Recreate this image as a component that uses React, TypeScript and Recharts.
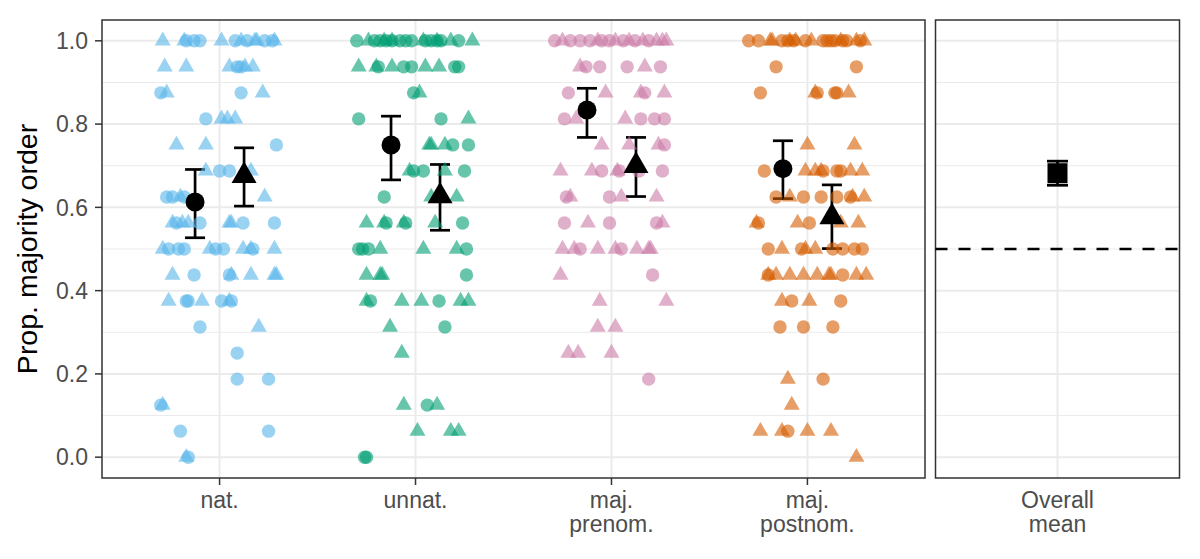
import {
  ErrorBar,
  ReferenceArea,
  ReferenceLine,
  Scatter,
  ScatterChart,
  XAxis,
  YAxis,
} from "recharts";

// [horizontal jitter within the category, proportion]
type Pt = [number, number];

const categories = ["nat.", "unnat.", "maj.\nprenom.", "maj.\npostnom."];
const colors = ["#56B4E9", "#009E73", "#CC79A7", "#D55E00"];

const natCircles: Pt[] = [
  [-0.17, 1], [-0.13, 1], [-0.1, 1], [0.08, 1], [0.14, 1], [0.23, 1], [0.27, 1],
  [0.09, 0.9375], [0.11, 0.9375],
  [-0.3, 0.875], [0.11, 0.875],
  [-0.07, 0.8125],
  [0.29, 0.75],
  [0, 0.6875], [0.05, 0.6875],
  [-0.27, 0.625], [-0.24, 0.625], [-0.18, 0.625],
  [-0.22, 0.5625], [-0.1, 0.5625], [0.12, 0.5625], [0.28, 0.5625],
  [-0.26, 0.5], [-0.21, 0.5], [-0.18, 0.5], [-0.02, 0.5], [0.02, 0.5], [0.17, 0.5],
  [-0.13, 0.4375], [0.05, 0.4375],
  [-0.17, 0.375], [-0.16, 0.375], [0.01, 0.375], [0.06, 0.375],
  [-0.1, 0.3125],
  [0.09, 0.25],
  [0.09, 0.1875], [0.25, 0.1875],
  [-0.3, 0.125],
  [-0.2, 0.0625], [0.25, 0.0625],
  [-0.16, 0],
];
const natTriangles: Pt[] = [
  [-0.29, 1], [-0.18, 1], [0.01, 1], [0.11, 1], [0.18, 1], [0.19, 1], [0.28, 1],
  [-0.28, 0.9375], [-0.17, 0.9375], [0.05, 0.9375], [0.13, 0.9375], [0.17, 0.9375],
  [-0.27, 0.875], [0.22, 0.875],
  [0.01, 0.8125], [0.04, 0.8125], [0.08, 0.8125],
  [-0.22, 0.75], [-0.07, 0.75],
  [-0.07, 0.6875], [0.16, 0.6875],
  [-0.2, 0.625], [0.23, 0.625],
  [-0.24, 0.5625], [-0.19, 0.5625], [-0.16, 0.5625], [0.05, 0.5625], [0.06, 0.5625],
  [-0.29, 0.5], [-0.05, 0.5], [0.12, 0.5], [0.16, 0.5], [0.28, 0.5],
  [-0.24, 0.4375], [0.06, 0.4375], [0.16, 0.4375], [0.28, 0.4375], [0.29, 0.4375],
  [-0.26, 0.375], [-0.09, 0.375], [0.05, 0.375],
  [0.2, 0.3125],
  [-0.29, 0.125],
  [-0.17, 0],
];

const unnatCircles: Pt[] = [
  [-0.3, 1], [-0.21, 1], [-0.18, 1], [-0.15, 1], [-0.12, 1], [-0.08, 1], [-0.05, 1],
  [-0.02, 1], [0.05, 1], [0.08, 1], [0.11, 1], [0.13, 1], [0.22, 1],
  [-0.19, 0.9375], [-0.06, 0.9375], [-0.02, 0.9375], [0.2, 0.9375], [0.22, 0.9375],
  [-0.01, 0.875],
  [-0.29, 0.8125], [0.13, 0.8125],
  [0.19, 0.75], [0.27, 0.75],
  [-0.01, 0.6875], [0.04, 0.6875], [0.25, 0.6875],
  [-0.16, 0.625],
  [-0.15, 0.5625], [-0.05, 0.5625], [0.24, 0.5625],
  [-0.29, 0.5], [-0.27, 0.5], [-0.24, 0.5], [0.26, 0.5],
  [0.26, 0.4375],
  [-0.23, 0.375], [0.12, 0.375],
  [0.15, 0.3125],
  [0.06, 0.125],
  [-0.26, 0], [-0.25, 0],
];
const unnatTriangles: Pt[] = [
  [-0.24, 1], [-0.16, 1], [-0.12, 1], [0.04, 1], [0.11, 1], [0.18, 1], [0.29, 1],
  [-0.29, 0.9375], [-0.2, 0.9375], [-0.12, 0.9375], [0.05, 0.9375], [0.12, 0.9375],
  [0.02, 0.875],
  [0.27, 0.8125],
  [0.07, 0.75], [0.08, 0.75], [0.15, 0.75],
  [-0.03, 0.6875], [0.15, 0.6875],
  [0.08, 0.625], [0.21, 0.625],
  [-0.25, 0.5625], [-0.16, 0.5625], [-0.06, 0.5625], [0.1, 0.5625],
  [-0.18, 0.5], [0.04, 0.5], [0.21, 0.5],
  [-0.25, 0.4375], [-0.18, 0.4375], [-0.17, 0.4375],
  [-0.25, 0.375], [-0.07, 0.375], [0.03, 0.375], [0.23, 0.375], [0.27, 0.375],
  [-0.13, 0.3125],
  [-0.07, 0.25],
  [-0.06, 0.125], [0.11, 0.125],
  [0.01, 0.0625], [0.18, 0.0625], [0.22, 0.0625],
];

const prenomCircles: Pt[] = [
  [-0.29, 1], [-0.21, 1], [-0.16, 1], [-0.11, 1], [-0.05, 1], [-0.01, 1], [0.06, 1],
  [0.12, 1], [0.19, 1],
  [-0.13, 0.9375], [-0.06, 0.9375], [0.08, 0.9375], [0.25, 0.9375],
  [-0.22, 0.875], [0.17, 0.875],
  [-0.24, 0.8125], [0.15, 0.8125], [0.22, 0.8125], [0.27, 0.8125],
  [0.27, 0.75],
  [-0.05, 0.6875], [0.04, 0.6875], [0.14, 0.6875], [0.26, 0.6875],
  [-0.23, 0.625], [-0.01, 0.625],
  [-0.24, 0.5625], [-0.01, 0.5625], [0.23, 0.5625],
  [-0.16, 0.5], [0.05, 0.5],
  [0.21, 0.4375],
  [0.19, 0.1875],
];
const prenomTriangles: Pt[] = [
  [-0.25, 1], [-0.07, 1], [0.02, 1], [0.09, 1], [0.16, 1], [0.23, 1], [0.26, 1], [0.28, 1],
  [-0.16, 0.9375], [0.17, 0.9375],
  [-0.03, 0.875], [0.15, 0.875], [0.27, 0.875],
  [-0.18, 0.8125], [0.07, 0.8125],
  [-0.05, 0.75], [0.09, 0.75], [0.24, 0.75],
  [-0.26, 0.6875], [-0.1, 0.6875], [0.03, 0.6875],
  [-0.21, 0.625], [0.05, 0.625], [0.23, 0.625],
  [-0.12, 0.5625], [0.26, 0.5625],
  [-0.25, 0.5], [-0.19, 0.5], [-0.07, 0.5], [0.02, 0.5], [0.13, 0.5], [0.19, 0.5], [0.2, 0.5],
  [-0.26, 0.4375],
  [-0.06, 0.375], [0.28, 0.375],
  [-0.07, 0.3125], [0.02, 0.3125],
  [-0.22, 0.25], [-0.17, 0.25], [0, 0.25],
];

const postnomCircles: Pt[] = [
  [-0.3, 1], [-0.25, 1], [-0.13, 1], [-0.1, 1], [-0.07, 1], [-0.01, 1], [0.08, 1],
  [0.1, 1], [0.12, 1], [0.14, 1], [0.18, 1], [0.2, 1], [0.27, 1],
  [-0.16, 0.9375], [0.25, 0.9375],
  [-0.24, 0.875], [0.05, 0.875], [0.14, 0.875], [0.15, 0.875],
  [-0.22, 0.6875], [0.08, 0.6875], [0.15, 0.6875], [0.17, 0.6875],
  [-0.16, 0.625], [-0.02, 0.625], [0.07, 0.625], [0.15, 0.625], [0.22, 0.625],
  [-0.25, 0.5625], [0.01, 0.5625],
  [-0.2, 0.5], [-0.03, 0.5], [0.13, 0.5], [0.18, 0.5], [0.24, 0.5], [0.28, 0.5],
  [-0.2, 0.4375], [0.18, 0.4375],
  [-0.08, 0.375], [0.17, 0.375],
  [-0.14, 0.3125], [-0.02, 0.3125], [0.13, 0.3125],
  [0.08, 0.1875],
  [-0.1, 0.0625],
];
const postnomTriangles: Pt[] = [
  [-0.19, 1], [-0.18, 1], [-0.09, 1], [-0.06, 1], [0.02, 1], [0.17, 1], [0.25, 1], [0.29, 1],
  [0.04, 0.875], [0.21, 0.875],
  [0, 0.75], [0.24, 0.75],
  [-0.01, 0.6875], [0.04, 0.6875], [0.07, 0.6875], [0.22, 0.6875], [0.28, 0.6875],
  [-0.09, 0.625], [0.23, 0.625], [0.29, 0.625],
  [-0.26, 0.5625], [-0.05, 0.5625], [0.17, 0.5625], [0.26, 0.5625],
  [-0.13, 0.5], [-0.01, 0.5], [0.04, 0.5],
  [-0.2, 0.4375], [-0.16, 0.4375], [-0.09, 0.4375], [-0.02, 0.4375], [0.05, 0.4375],
  [0.11, 0.4375], [0.12, 0.4375], [0.25, 0.4375], [0.3, 0.4375],
  [-0.13, 0.375], [0.01, 0.375],
  [-0.1, 0.1875],
  [-0.08, 0.125],
  [-0.24, 0.0625], [-0.13, 0.0625], [0, 0.0625], [0.12, 0.0625],
  [0.25, 0],
];

const circlePoints = [natCircles, unnatCircles, prenomCircles, postnomCircles];
const trianglePoints = [natTriangles, unnatTriangles, prenomTriangles, postnomTriangles];

const circleMean = [0.613, 0.75, 0.834, 0.693];
const circleLow = [0.527, 0.666, 0.768, 0.621];
const circleHigh = [0.691, 0.819, 0.886, 0.76];
const triangleMean = [0.676, 0.627, 0.7, 0.577];
const triangleLow = [0.603, 0.545, 0.626, 0.501];
const triangleHigh = [0.743, 0.703, 0.768, 0.654];

const overallMean = 0.682;
const overallLow = 0.653;
const overallHigh = 0.711;
const chanceLevel = 0.5;

const yTicks = [0, 0.2, 0.4, 0.6, 0.8, 1];
const yMinorTicks = [0.1, 0.3, 0.5, 0.7, 0.9];

const FONT = "'Liberation Sans', Arial, Helvetica, sans-serif";
const TEXT = "#4D4D4D";
const GRID = "#EBEBEB";
const BORDER = "#333333";
const Y_DOMAIN: [number, number] = [-0.05, 1.05];
const DODGE = 0.125;

const toXY = (pts: Pt[], i: number) => pts.map(([dx, y]) => ({ x: i + 1 + dx, y }));

const dot = (r: number, fill: string, opacity: number) => (p: any) => (
  <circle cx={p.cx} cy={p.cy} r={r} fill={fill} fillOpacity={opacity} />
);

const tri = (w: number, h: number, fill: string, opacity: number) => (p: any) => (
  <polygon
    points={`${p.cx},${p.cy - (2 * h) / 3} ${p.cx - w / 2},${p.cy + h / 3} ${p.cx + w / 2},${p.cy + h / 3}`}
    fill={fill}
    fillOpacity={opacity}
  />
);

const square = (s: number) => (p: any) => (
  <rect x={p.cx - s / 2} y={p.cy - s / 2} width={s} height={s} fill="#000" />
);

const meanRows = (mean: number[], low: number[], high: number[], shift: number) =>
  mean.map((m, i) => ({ x: i + 1 + shift, y: m, err: [m - low[i], high[i] - m] }));

const makeTick = (labels: string[]) => (props: any) => {
  const { x, y, payload } = props;
  const lines = labels[Math.round(payload.value) - 1].split("\n");
  return (
    <text x={x} y={y} textAnchor="middle" fontSize={23} fill={TEXT} fontFamily={FONT}>
      {lines.map((l, i) => (
        <tspan key={i} x={x} dy={i === 0 ? 21 : 24}>
          {l}
        </tspan>
      ))}
    </text>
  );
};

export default function App() {
  const gridProps = { stroke: GRID, ifOverflow: "visible" as const, zIndex: -100 };

  return (
    <div style={{ position: "absolute", left: 0, top: 0, width: 1200, height: 559, background: "#fff" }}>
      <div style={{ position: "absolute", left: 0, top: 0 }}>
        <ScatterChart width={930} height={559} margin={{ top: 20, right: 5, bottom: 0, left: 0 }}>
          <XAxis
            type="number"
            dataKey="x"
            domain={[0.4, 4.6]}
            ticks={[1, 2, 3, 4]}
            interval={0}
            axisLine={false}
            tickSize={7}
            tickMargin={2}
            tickLine={{ stroke: BORDER, strokeWidth: 1.5 }}
            tick={makeTick(categories)}
            height={81}
          />
          <YAxis
            type="number"
            dataKey="y"
            domain={Y_DOMAIN}
            ticks={yTicks}
            interval={0}
            axisLine={false}
            tickSize={7}
            tickMargin={7}
            tickLine={{ stroke: BORDER, strokeWidth: 1.5 }}
            tickFormatter={(v: number) => v.toFixed(1)}
            tick={{ fontSize: 23, fill: TEXT, fontFamily: FONT }}
            width={102}
            label={{
              content: (p: any) => {
                const vb = p.viewBox;
                const cy = vb.y + vb.height / 2;
                return (
                  <text
                    x={27}
                    y={cy}
                    transform={`rotate(-90, 27, ${cy})`}
                    textAnchor="middle"
                    dominantBaseline="central"
                    fontSize={28.5}
                    fill="#000"
                    fontFamily={FONT}
                  >
                    Prop. majority order
                  </text>
                );
              },
            }}
          />
          {yMinorTicks.map((v) => (
            <ReferenceLine key={"mn" + v} y={v} strokeWidth={1} {...gridProps} />
          ))}
          {yTicks.map((v) => (
            <ReferenceLine key={"mj" + v} y={v} strokeWidth={2} {...gridProps} />
          ))}
          {categories.map((c, i) => (
            <ReferenceLine key={"vx" + c} x={i + 1} strokeWidth={2} {...gridProps} />
          ))}
          {categories.map((c, i) => (
            <Scatter
              key={"c" + c}
              data={toXY(circlePoints[i], i)}
              shape={dot(6.7, colors[i], 0.6)}
              isAnimationActive={false}
            />
          ))}
          {categories.map((c, i) => (
            <Scatter
              key={"t" + c}
              data={toXY(trianglePoints[i], i)}
              shape={tri(16, 13.9, colors[i], 0.6)}
              isAnimationActive={false}
            />
          ))}
          <Scatter
            data={meanRows(circleMean, circleLow, circleHigh, -DODGE)}
            shape={dot(9.5, "#000", 1)}
            isAnimationActive={false}
          >
            <ErrorBar dataKey="err" direction="y" width={10} stroke="#000" strokeWidth={2.7} />
          </Scatter>
          <Scatter
            data={meanRows(triangleMean, triangleLow, triangleHigh, DODGE)}
            shape={tri(25, 21.6, "#000", 1)}
            isAnimationActive={false}
          >
            <ErrorBar dataKey="err" direction="y" width={10} stroke="#000" strokeWidth={2.7} />
          </Scatter>
          <ReferenceArea
            x1={0.4}
            x2={4.6}
            y1={Y_DOMAIN[0]}
            y2={Y_DOMAIN[1]}
            fill="none"
            fillOpacity={0}
            stroke={BORDER}
            strokeWidth={1.5}
            ifOverflow="visible"
          />
        </ScatterChart>
      </div>
      <div style={{ position: "absolute", left: 930, top: 0 }}>
        <ScatterChart width={270} height={559} margin={{ top: 20, right: 20.5, bottom: 0, left: 5.5 }}>
          <XAxis
            type="number"
            dataKey="x"
            domain={[0.4, 1.6]}
            ticks={[1]}
            interval={0}
            axisLine={false}
            tickLine={false}
            tickSize={7}
            tickMargin={2}
            tick={makeTick(["Overall\nmean"])}
            height={81}
          />
          <YAxis type="number" dataKey="y" domain={Y_DOMAIN} ticks={yTicks} hide />
          {yMinorTicks.map((v) => (
            <ReferenceLine key={"mn" + v} y={v} strokeWidth={1} {...gridProps} />
          ))}
          {yTicks.map((v) => (
            <ReferenceLine key={"mj" + v} y={v} strokeWidth={2} {...gridProps} />
          ))}
          <ReferenceLine x={1} strokeWidth={2} {...gridProps} />
          <ReferenceLine y={chanceLevel} stroke="#000" strokeWidth={2.5} strokeDasharray="12 11" />
          <Scatter
            data={[{ x: 1, y: overallMean, err: [overallMean - overallLow, overallHigh - overallMean] }]}
            shape={square(20)}
            isAnimationActive={false}
          >
            <ErrorBar dataKey="err" direction="y" width={10.5} stroke="#000" strokeWidth={2.7} />
          </Scatter>
          <ReferenceArea
            x1={0.4}
            x2={1.6}
            y1={Y_DOMAIN[0]}
            y2={Y_DOMAIN[1]}
            fill="none"
            fillOpacity={0}
            stroke={BORDER}
            strokeWidth={1.5}
            ifOverflow="visible"
          />
        </ScatterChart>
      </div>
    </div>
  );
}
